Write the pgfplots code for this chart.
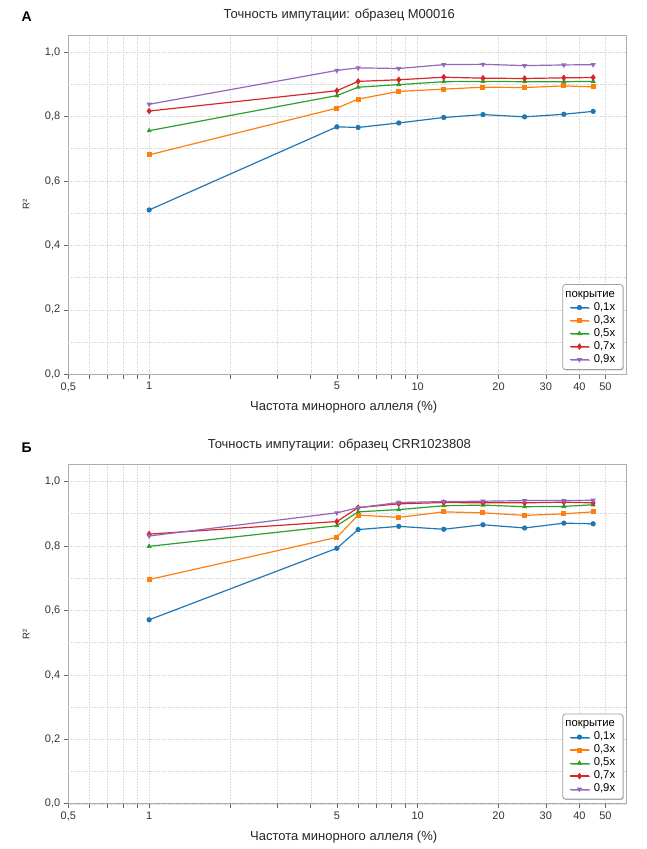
\documentclass[border=0pt]{standalone}
\usepackage{pgfplots}
\usepackage{pgfplotstable}
\pgfplotsset{compat=1.18}
\usepackage{fontspec}
\setmainfont{Liberation Sans}
\usetikzlibrary{shadows}

\definecolor{cB}{HTML}{1F77B4}
\definecolor{cO}{HTML}{FF7F0E}
\definecolor{cG}{HTML}{2CA02C}
\definecolor{cR}{HTML}{D62728}
\definecolor{cP}{HTML}{9467BD}

\pgfplotstableread{
x b o g r p
1 0.510 0.681 0.756 0.817 0.838
5 0.768 0.826 0.865 0.880 0.943
6 0.766 0.854 0.891 0.909 0.951
8.5 0.780 0.878 0.899 0.914 0.949
12.5 0.797 0.885 0.908 0.922 0.961
17.5 0.806 0.891 0.909 0.919 0.962
25 0.799 0.890 0.908 0.918 0.958
35 0.807 0.895 0.908 0.920 0.960
45 0.816 0.892 0.909 0.921 0.961
}\dataA

\pgfplotstableread{
x b o g r p
1 0.571 0.696 0.799 0.837 0.831
5 0.793 0.827 0.863 0.876 0.903
6 0.851 0.896 0.906 0.919 0.919
8.5 0.861 0.889 0.913 0.931 0.935
12.5 0.852 0.906 0.925 0.935 0.938
17.5 0.866 0.903 0.927 0.934 0.939
25 0.856 0.895 0.922 0.934 0.941
35 0.871 0.900 0.923 0.936 0.941
45 0.869 0.906 0.928 0.934 0.942
}\dataB

\tikzset{
  sB/.style={color=cB, mark=*, mark size=2pt, line width=1.2pt},
  sO/.style={color=cO, mark=square*, mark size=1.9pt, line width=1.2pt},
  sG/.style={color=cG, mark=triangle*, mark size=1.8pt, line width=1.2pt},
  sR/.style={color=cR, mark=diamond*, mark size=2.4pt, line width=1.2pt},
  sP/.style={color=cP, mark=triangle*, mark size=1.9pt, mark options={rotate=180}, line width=1.2pt},
}

\begin{document}
\begin{tikzpicture}
\path[use as bounding box] (0,0) rectangle (647pt,849pt);

\begin{axis}[
    at={(68.3pt,474.7pt)}, anchor=south west,
    title={Точность импутации: образец M00016},
    scale only axis, width=558.4pt, height=339.3pt,
    xmode=log, xmin=0.5, xmax=60, ymin=0, ymax=1.053,
    xtick={0.5,1,5,10,20,30,40,50},
    xticklabels={{0,5},1,5,10,20,30,40,50},
    minor xtick={0.6,0.7,0.8,0.9,2,3,4,6,7,8,9},
    ytick={0,0.2,0.4,0.6,0.8,1.0},
    extra y ticks={0.1,0.3,0.5,0.7,0.9},
    extra y tick labels={},
    extra y tick style={grid=major, major tick length=0pt},
    yticklabel style={/pgf/number format/.cd, fixed, fixed zerofill, precision=1, use comma},
    /pgf/number format/assume math mode=true,
    xmajorgrids, xminorgrids, ymajorgrids,
    major grid style={draw=gray!28, line width=0.6pt, densely dotted},
    minor grid style={draw=gray!28, line width=0.6pt, densely dotted},
    tick align=outside, tick pos=left,
    major tick length=4.5pt, minor tick length=4.5pt,
    axis line style={draw=gray!65, line width=0.9pt},
    tick style={draw=black!60, line width=0.7pt},
    ticklabel style={font=\fontsize{11}{13}\selectfont, text=black!80},
    xlabel={Частота минорного аллеля (\%)},
    ylabel={R²},
    every axis x label/.style={at={(axis description cs:0.5,0)}, anchor=center, yshift=-33pt, xshift=-3.8pt, font=\fontsize{13}{15}\selectfont, text=black!85},
    every axis y label/.style={at={(axis description cs:0,0.5)}, anchor=center, rotate=90, yshift=42.3pt, font=\fontsize{9.5}{11}\selectfont, text=black!85},
    title style={at={(axis description cs:0.5,1)}, anchor=base, yshift=10.3pt, xshift=-8.2pt, font=\fontsize{13}{15}\selectfont, text=black!85},
    legend cell align=left,
    legend style={at={(1,0)}, anchor=south east, xshift=-3.4pt, yshift=4.3pt,
      draw=gray!75, line width=0.8pt, rounded corners=2.5pt, fill=white,
      drop shadow={shadow xshift=0.8pt, shadow yshift=-0.8pt, fill=black!45, opacity=0.6},
      font=\fontsize{11.3}{13}\selectfont, inner xsep=6.5pt, inner ysep=3.5pt, row sep=0pt, column sep=3pt,
      nodes={inner sep=1.25pt, text height=8pt, text depth=2.5pt}},
    legend image code/.code={\draw[mark repeat=2,mark phase=2] plot coordinates {(0pt,0pt)(9.5pt,0pt)(19pt,0pt)};},
  ]
  \addlegendimage{empty legend}\addlegendentry{\hspace*{-28.4pt}покрытие}
  \addplot[sB] table[x=x,y=b] {\dataA}; \addlegendentry{0,1x}
  \addplot[sO] table[x=x,y=o] {\dataA}; \addlegendentry{0,3x}
  \addplot[sG] table[x=x,y=g] {\dataA}; \addlegendentry{0,5x}
  \addplot[sR] table[x=x,y=r] {\dataA}; \addlegendentry{0,7x}
  \addplot[sP] table[x=x,y=p] {\dataA}; \addlegendentry{0,9x}
\end{axis}

\begin{axis}[
    at={(68.3pt,45.2pt)}, anchor=south west,
    title={Точность импутации: образец CRR1023808},
    scale only axis, width=558.4pt, height=339.3pt,
    xmode=log, xmin=0.5, xmax=60, ymin=0, ymax=1.053,
    xtick={0.5,1,5,10,20,30,40,50},
    xticklabels={{0,5},1,5,10,20,30,40,50},
    minor xtick={0.6,0.7,0.8,0.9,2,3,4,6,7,8,9},
    ytick={0,0.2,0.4,0.6,0.8,1.0},
    extra y ticks={0.1,0.3,0.5,0.7,0.9},
    extra y tick labels={},
    extra y tick style={grid=major, major tick length=0pt},
    yticklabel style={/pgf/number format/.cd, fixed, fixed zerofill, precision=1, use comma},
    /pgf/number format/assume math mode=true,
    xmajorgrids, xminorgrids, ymajorgrids,
    major grid style={draw=gray!28, line width=0.6pt, densely dotted},
    minor grid style={draw=gray!28, line width=0.6pt, densely dotted},
    tick align=outside, tick pos=left,
    major tick length=4.5pt, minor tick length=4.5pt,
    axis line style={draw=gray!65, line width=0.9pt},
    tick style={draw=black!60, line width=0.7pt},
    ticklabel style={font=\fontsize{11}{13}\selectfont, text=black!80},
    xlabel={Частота минорного аллеля (\%)},
    ylabel={R²},
    every axis x label/.style={at={(axis description cs:0.5,0)}, anchor=center, yshift=-33pt, xshift=-3.8pt, font=\fontsize{13}{15}\selectfont, text=black!85},
    every axis y label/.style={at={(axis description cs:0,0.5)}, anchor=center, rotate=90, yshift=42.3pt, font=\fontsize{9.5}{11}\selectfont, text=black!85},
    title style={at={(axis description cs:0.5,1)}, anchor=base, yshift=10.3pt, xshift=-8.2pt, font=\fontsize{13}{15}\selectfont, text=black!85},
    legend cell align=left,
    legend style={at={(1,0)}, anchor=south east, xshift=-3.4pt, yshift=4.3pt,
      draw=gray!75, line width=0.8pt, rounded corners=2.5pt, fill=white,
      drop shadow={shadow xshift=0.8pt, shadow yshift=-0.8pt, fill=black!45, opacity=0.6},
      font=\fontsize{11.3}{13}\selectfont, inner xsep=6.5pt, inner ysep=3.5pt, row sep=0pt, column sep=3pt,
      nodes={inner sep=1.25pt, text height=8pt, text depth=2.5pt}},
    legend image code/.code={\draw[mark repeat=2,mark phase=2] plot coordinates {(0pt,0pt)(9.5pt,0pt)(19pt,0pt)};},
  ]
  \addlegendimage{empty legend}\addlegendentry{\hspace*{-28.4pt}покрытие}
  \addplot[sB] table[x=x,y=b] {\dataB}; \addlegendentry{0,1x}
  \addplot[sO] table[x=x,y=o] {\dataB}; \addlegendentry{0,3x}
  \addplot[sG] table[x=x,y=g] {\dataB}; \addlegendentry{0,5x}
  \addplot[sR] table[x=x,y=r] {\dataB}; \addlegendentry{0,7x}
  \addplot[sP] table[x=x,y=p] {\dataB}; \addlegendentry{0,9x}
\end{axis}

\node[anchor=base west, font=\bfseries\fontsize{14}{16}\selectfont] at (18pt,827.3pt) {А};
\node[anchor=base west, font=\bfseries\fontsize{14}{16}\selectfont] at (18pt,396.7pt) {Б};
\end{tikzpicture}
\end{document}
